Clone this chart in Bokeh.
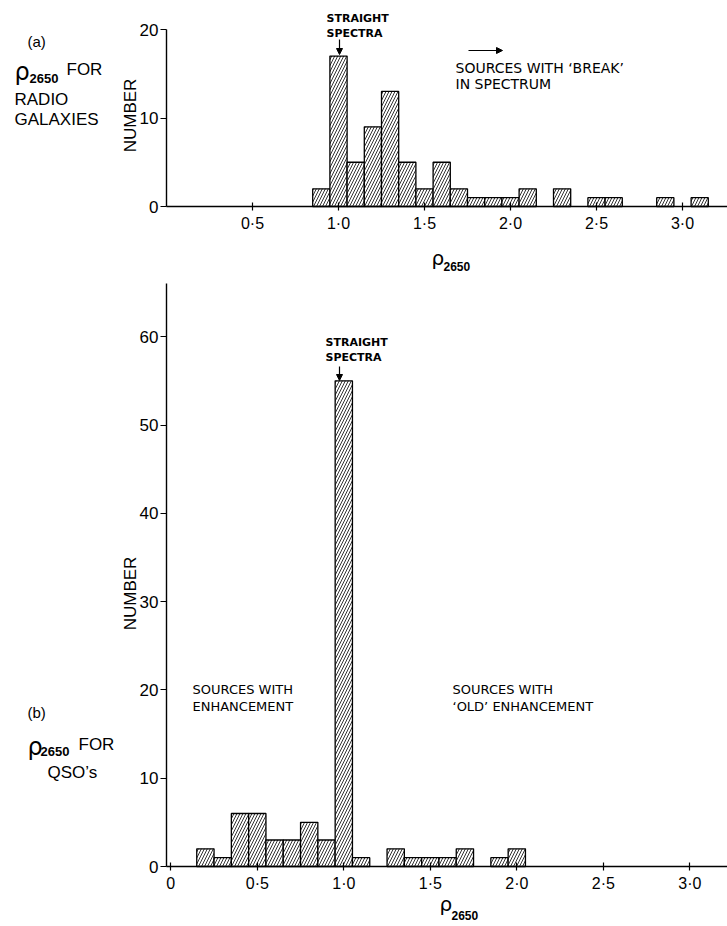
from bokeh.plotting import figure
from bokeh.models import Label, Arrow, NormalHead, FixedTicker, Range1d, LinearAxis
from bokeh.layouts import column
from bokeh.embed import file_html
from bokeh.resources import INLINE

# ---------------- data ----------------
bin_width = 0.1
# (a) radio galaxies: bin centres and counts
rg_centers = [0.9, 1.0, 1.1, 1.2, 1.3, 1.4, 1.5, 1.6, 1.7, 1.8, 1.9, 2.0,
              2.1, 2.2, 2.3, 2.4, 2.5, 2.6, 2.7, 2.8, 2.9, 3.0, 3.1]
rg_counts = [2, 17, 5, 9, 13, 5, 2, 5, 2, 1, 1, 1,
             2, 0, 2, 0, 1, 1, 0, 0, 1, 0, 1]
# (b) QSOs
qso_centers = [0.2, 0.3, 0.4, 0.5, 0.6, 0.7, 0.8, 0.9, 1.0, 1.1,
               1.2, 1.3, 1.4, 1.5, 1.6, 1.7, 1.8, 1.9, 2.0]
qso_counts = [2, 1, 6, 6, 3, 3, 5, 3, 55, 1,
              0, 2, 1, 1, 1, 2, 0, 1, 2]

a_xticks = [0.5, 1.0, 1.5, 2.0, 2.5, 3.0]
b_xticks = [0.0, 0.5, 1.0, 1.5, 2.0, 2.5, 3.0]
a_yticks = [0, 10, 20]
b_yticks = [0, 10, 20, 30, 40, 50, 60]
a_ymax = 20
b_ymax = 66
tick_text = {0.0: "0", 0.5: "0·5", 1.0: "1·0", 1.5: "1·5", 2.0: "2·0", 2.5: "2·5", 3.0: "3·0"}

FONT = "Liberation Sans"
NOTE = "DejaVu Sans"

W = 727           # figure width (page x 0 .. 727)
PAGE_X0 = 0


class Panel:
    """Maps reference-page pixel positions to data coordinates."""
    def __init__(self, top_px, height, x_origin_px, x_scale, y_origin_px, y_scale):
        self.top = top_px
        self.h = height
        self.xo, self.xs = x_origin_px, x_scale
        self.yo, self.ys = y_origin_px, y_scale

    def conv(self, px, py):
        return (px - self.xo) / self.xs, (self.yo - py) / self.ys

    def xrange(self):
        return Range1d(self.conv(PAGE_X0, 0)[0], self.conv(PAGE_X0 + W, 0)[0])

    def yrange(self):
        return Range1d(self.conv(0, self.top + self.h)[1], self.conv(0, self.top)[1])


def make_fig(pan, xticks, yticks, yaxis_x, ymax):
    p = figure(width=W, height=pan.h, x_range=pan.xrange(), y_range=pan.yrange(),
               min_border=0, x_axis_type=None, y_axis_type=None,
               output_backend="svg", toolbar_location=None)
    p.outline_line_color = None
    p.xgrid.grid_line_color = None
    p.ygrid.grid_line_color = None
    p.background_fill_color = "white"
    p.border_fill_color = "white"

    xa = LinearAxis(fixed_location=0, bounds=(yaxis_x, 3.4),
                    ticker=FixedTicker(ticks=xticks),
                    major_label_overrides={t: tick_text[t] for t in xticks})
    xa.major_tick_in = 4
    xa.major_tick_out = 4
    xa.major_label_standoff = 4
    xa.major_label_text_font_size = "16px"
    ya = LinearAxis(fixed_location=yaxis_x, bounds=(0, ymax),
                    ticker=FixedTicker(ticks=yticks))
    ya.major_tick_in = 0
    ya.major_tick_out = 6
    ya.major_label_standoff = 2
    ya.major_label_text_font_size = "17px"
    for ax in (xa, ya):
        ax.axis_line_color = "black"
        ax.axis_line_width = 1.4
        ax.major_tick_line_color = "black"
        ax.major_tick_line_width = 1.2
        ax.minor_tick_line_color = None
        ax.major_label_text_font = FONT
        ax.major_label_text_color = "black"
    p.add_layout(xa, "below")
    p.add_layout(ya, "left")
    return p


def bars(p, centers, counts):
    xs = [c for c, n in zip(centers, counts) if n > 0]
    hs = [n for n in counts if n > 0]
    p.vbar(x=xs, top=hs, bottom=0, width=bin_width,
           fill_color="white", line_color="black", line_width=1.3,
           hatch_pattern="/", hatch_color="black", hatch_weight=0.8,
           hatch_scale=6)


def lab(p, pan, px, py, text, size, font=FONT, style="normal",
        align="left", angle=0, baseline="middle"):
    x, y = pan.conv(px, py)
    p.add_layout(Label(x=x, y=y, text=text, text_font=font,
                       text_font_size=size, text_font_style=style,
                       text_align=align, text_baseline=baseline,
                       text_color="black", angle=angle, angle_units="deg"))


def rho(p, pan, px, base, sub_dx, sub_base, size=24, sub_size="13px"):
    lab(p, pan, px, base, "ρ", f"{size}px", font="DejaVu Sans", baseline="alphabetic")
    lab(p, pan, px + sub_dx, sub_base, "2650", sub_size, style="bold",
        baseline="alphabetic")


def arrow(p, pan, p0, p1):
    x0, y0 = pan.conv(*p0)
    x1, y1 = pan.conv(*p1)
    p.add_layout(Arrow(end=NormalHead(size=6, fill_color="black", line_color="black"),
                       x_start=x0, y_start=y0, x_end=x1, y_end=y1,
                       line_color="black", line_width=1.2))


# ---------------- panel (a) ----------------
PA = Panel(top_px=0, height=280, x_origin_px=166.0, x_scale=172.0,
           y_origin_px=206.0, y_scale=8.85)
pa = make_fig(PA, a_xticks, a_yticks, 0.0, a_ymax)
bars(pa, rg_centers, rg_counts)

lab(pa, PA, 27, 41, "(a)", "15px")
rho(pa, PA, 14, 71, 15, 78)
lab(pa, PA, 66, 69, "FOR", "17px")
lab(pa, PA, 14, 99, "RADIO", "17px")
lab(pa, PA, 14, 119, "GALAXIES", "17px")
lab(pa, PA, 130, 115, "NUMBER", "17px", align="center", angle=90)
lab(pa, PA, 326, 18, "STRAIGHT", "11px", font=NOTE, style="bold")
lab(pa, PA, 326, 33, "SPECTRA", "11px", font=NOTE, style="bold")
arrow(pa, PA, (339, 39), (339, 54))
arrow(pa, PA, (468, 50), (502, 50))
lab(pa, PA, 455, 67, "SOURCES WITH ‘BREAK’", "14px", font=NOTE)
lab(pa, PA, 455, 83, "IN SPECTRUM", "14px", font=NOTE)
rho(pa, PA, 431, 257, 12, 266, size=20, sub_size="12px")

# ---------------- panel (b) ----------------
PB = Panel(top_px=280, height=646, x_origin_px=170.3, x_scale=173.0,
           y_origin_px=866.0, y_scale=8.83)
b_axis_x = PB.conv(166.0, 0)[0]
pb = make_fig(PB, b_xticks, b_yticks, b_axis_x, b_ymax)
bars(pb, qso_centers, qso_counts)

lab(pb, PB, 325, 342, "STRAIGHT", "11px", font=NOTE, style="bold")
lab(pb, PB, 325, 357, "SPECTRA", "11px", font=NOTE, style="bold")
arrow(pb, PB, (339, 366), (339, 380))
lab(pb, PB, 130, 593, "NUMBER", "17px", align="center", angle=90)
lab(pb, PB, 192, 689, "SOURCES WITH", "13px", font=NOTE)
lab(pb, PB, 192, 706, "ENHANCEMENT", "13px", font=NOTE)
lab(pb, PB, 452, 689, "SOURCES WITH", "13px", font=NOTE)
lab(pb, PB, 452, 706, "‘OLD’ ENHANCEMENT", "13px", font=NOTE)
lab(pb, PB, 27, 712, "(b)", "15px")
rho(pb, PB, 27, 746, 13, 751)
lab(pb, PB, 78, 744, "FOR", "17px")
lab(pb, PB, 47, 772, "QSO’s", "17px")
rho(pb, PB, 439, 903, 12, 915, size=20, sub_size="12px")

layout = column(pa, pb, spacing=0)
open("out.html", "w").write(file_html(layout, INLINE))
